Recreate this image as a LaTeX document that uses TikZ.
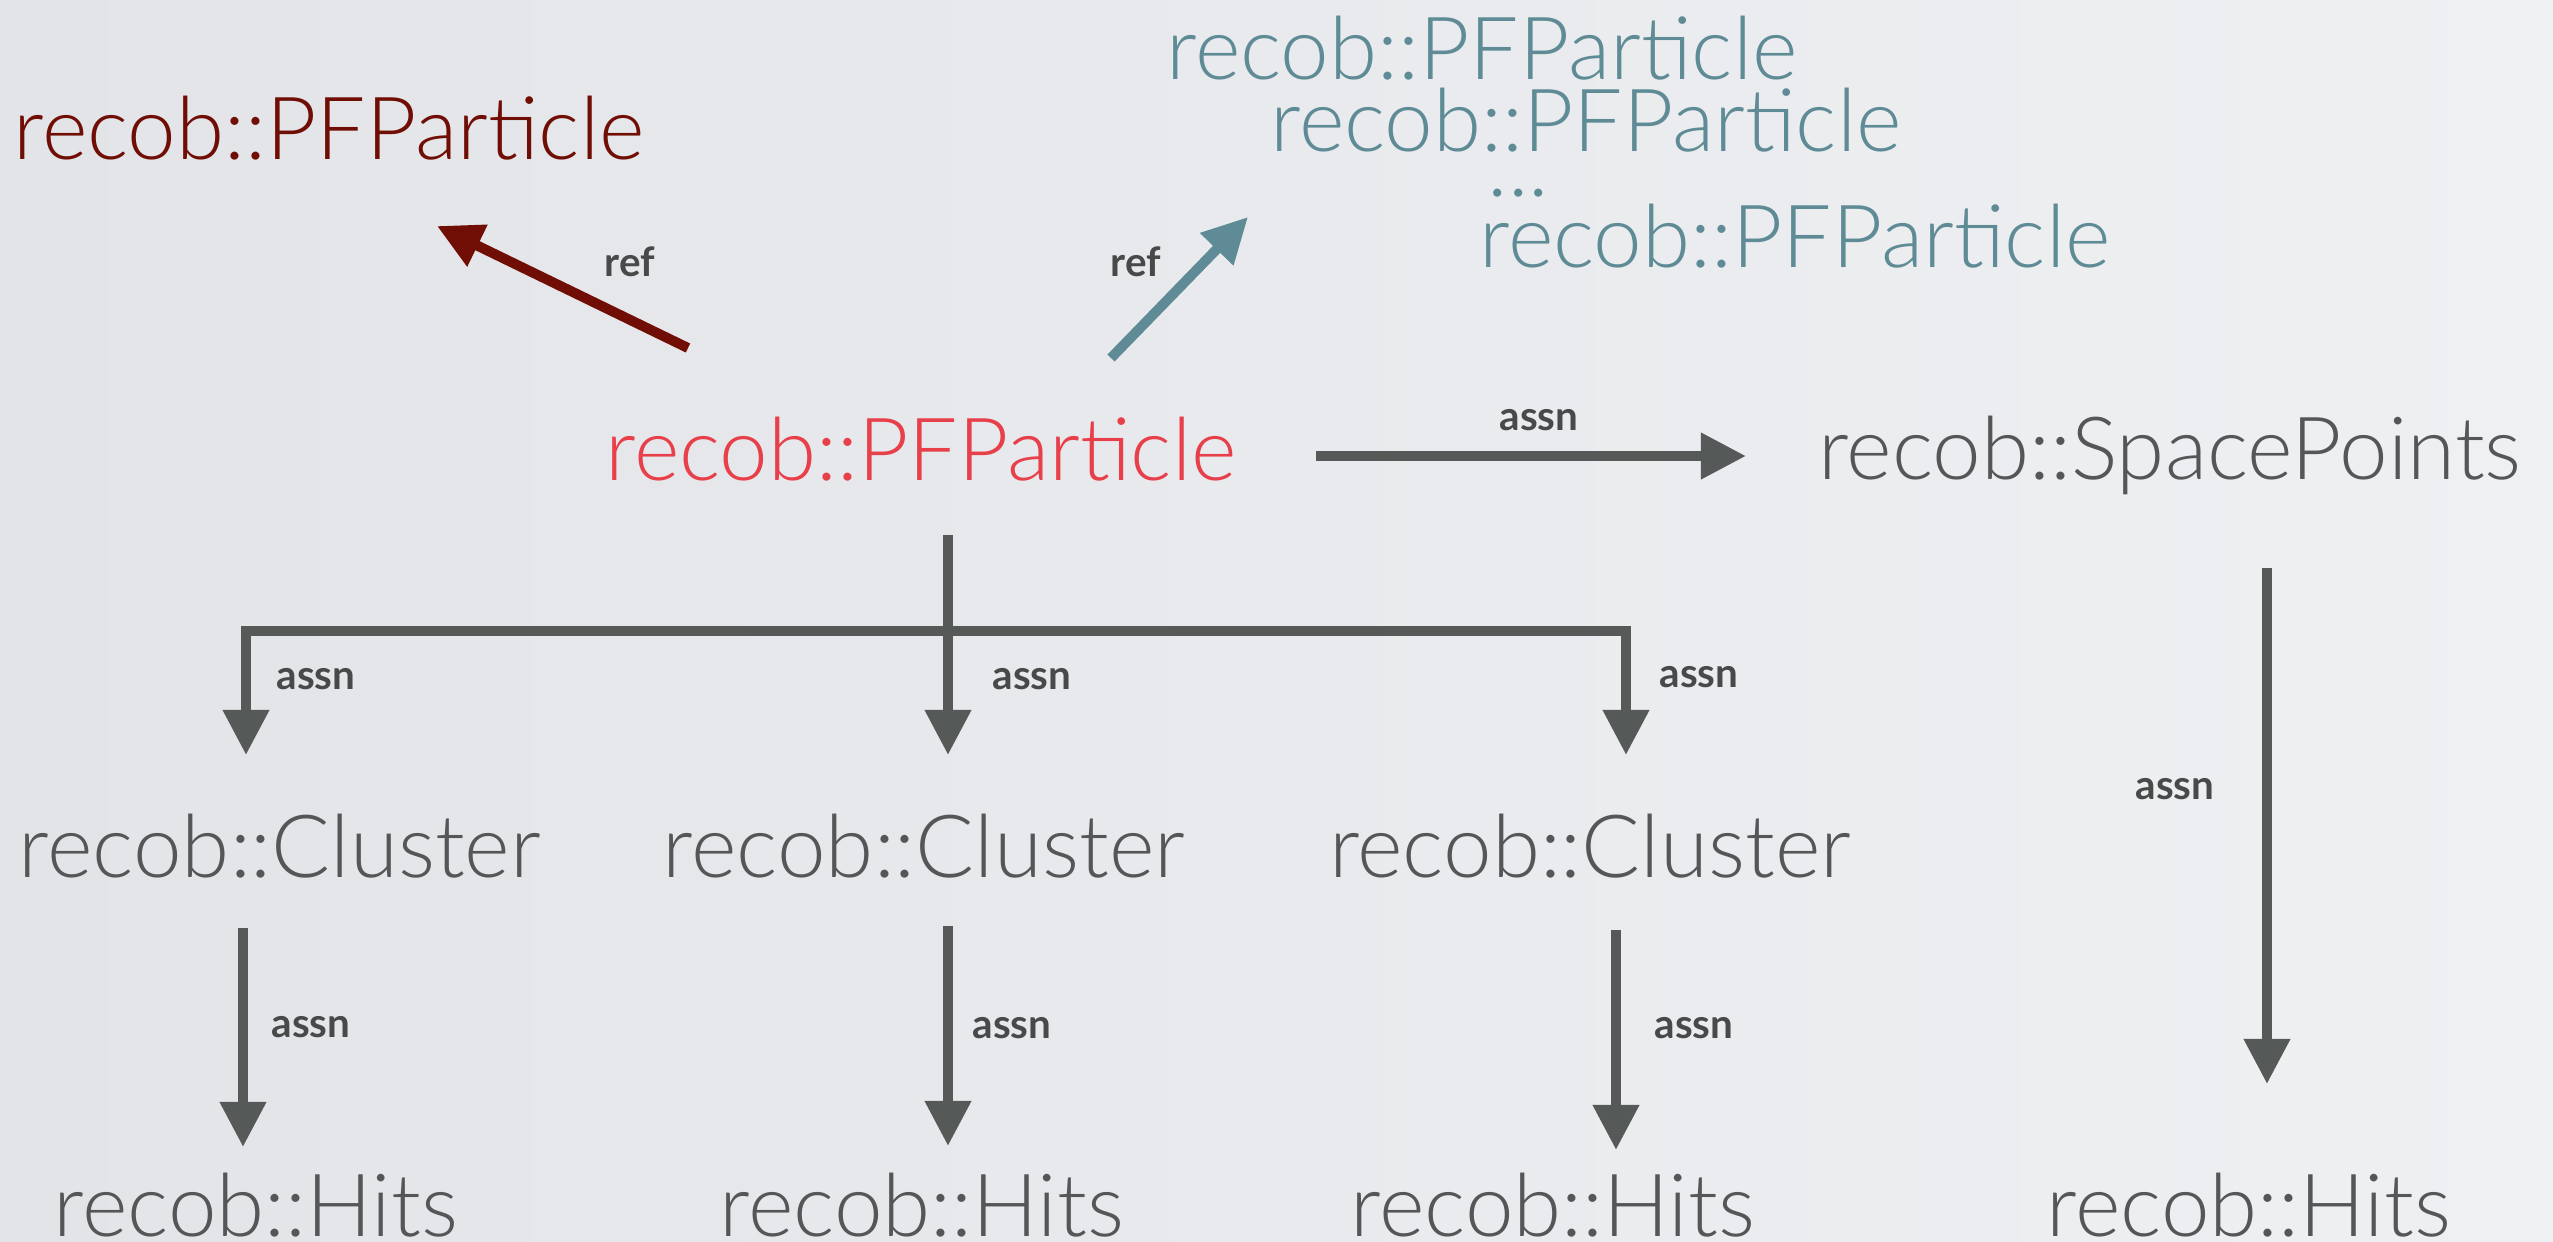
\documentclass[tikz,border=0pt]{standalone}
\usepackage{fontspec}
\setmainfont{Lato Light}
\newfontfamily\lblfont{Lato Bold}
\usetikzlibrary{arrows.meta}
\definecolor{bgL}{RGB}{226,228,232}
\definecolor{bgR}{RGB}{239,240,242}
\definecolor{darkred}{RGB}{112,14,6}
\definecolor{tealc}{RGB}{94,139,149}
\definecolor{mainred}{RGB}{232,64,74}
\definecolor{txtgray}{RGB}{84,87,87}
\definecolor{arrgray}{RGB}{85,89,88}
\definecolor{lblgray}{RGB}{72,74,74}
\tikzset{
  ttl/.style={font=\fontsize{24.8}{28}\selectfont, inner sep=0pt, anchor=base, text=txtgray},
  lbl/.style={font=\lblfont\fontsize{11.5}{13}\selectfont, text=lblgray, inner sep=0pt},
  arr/.style={line width=0.1cm, draw=arrgray, -{Triangle[length=0.45cm,width=0.44cm]}},
}
\begin{document}
\begin{tikzpicture}[x=0.01cm,y=-0.01cm]
\useasboundingbox (0,0) rectangle (2553,1241);
\shade[left color=bgL, right color=bgR] (0,0) rectangle (2553,1241);

% title nodes
\node[ttl, text=darkred] (pfl) at (329,159) {recob::PFParticle};
\node[ttl, text=tealc] (pft1) at (1482,79) {recob::PFParticle};
\node[ttl, text=tealc] (pft2) at (1586,151) {recob::PFParticle};
\node[ttl, text=tealc, anchor=base west] (pfdots) at (1487,196) {...};
\node[ttl, text=tealc] (pft3) at (1795,267) {recob::PFParticle};
\node[ttl, text=mainred] (pf) at (921,480) {recob::PFParticle};
\node[ttl] (sp) at (2170,479) {recob::SpacePoints};
\node[ttl] (cl1) at (280,877) {recob::Cluster};
\node[ttl] (cl2) at (924,877) {recob::Cluster};
\node[ttl] (cl3) at (1590,877) {recob::Cluster};
\node[ttl] (h1) at (256,1236) {recob::Hits};
\node[ttl] (h2) at (922,1236) {recob::Hits};
\node[ttl] (h3) at (1553,1236) {recob::Hits};
\node[ttl] (h4) at (2249,1236) {recob::Hits};

% connector end points
\coordinate (rA) at (688,348);  \coordinate (rB) at (437,226);
\coordinate (tA) at (1111,358); \coordinate (tB) at (1248,217);
\coordinate (hA) at (1316,456); \coordinate (hB) at (1746,456);
\coordinate (tr0) at (948,535); \coordinate (tr1) at (948,755);
\coordinate (bl0) at (246,631); \coordinate (bl1) at (246,755);
\coordinate (br0) at (1626,631); \coordinate (br1) at (1626,755);
\coordinate (c1a) at (243,928);  \coordinate (c1b) at (243,1147);
\coordinate (c2a) at (948,926);  \coordinate (c2b) at (948,1146);
\coordinate (c3a) at (1616,930); \coordinate (c3b) at (1616,1150);
\coordinate (sA) at (2267,568);  \coordinate (sB) at (2267,1084);

% connectors
\draw[arr, draw=darkred] (rA) -- (rB);
\draw[arr, draw=tealc] (tA) -- (tB);
\draw[arr] (hA) -- (hB);
\draw[arr] (tr0) -- (tr1);
\draw[line width=0.1cm, draw=arrgray, {Triangle[length=0.45cm,width=0.44cm]}-{Triangle[length=0.45cm,width=0.44cm]}, line join=miter]
  (bl1) -- (bl0) -- (br0) -- (br1);
\draw[arr] (c1a) -- (c1b);
\draw[arr] (c2a) -- (c2b);
\draw[arr] (c3a) -- (c3b);
\draw[arr] (sA) -- (sB);

% labels
\node[lbl] (lr1) at (630,262) {ref};
\node[lbl] (lr2) at (1136,262) {ref};
\node[lbl] (la0) at (1539,420) {assn};
\node[lbl] (la1) at (316,679) {assn};
\node[lbl] (la2) at (1032,679) {assn};
\node[lbl] (la3) at (1699,677) {assn};
\node[lbl] (la4) at (311,1027) {assn};
\node[lbl] (la5) at (1012,1028) {assn};
\node[lbl] (la6) at (1694,1028) {assn};
\node[lbl] (la7) at (2175,789) {assn};
\end{tikzpicture}
\end{document}
